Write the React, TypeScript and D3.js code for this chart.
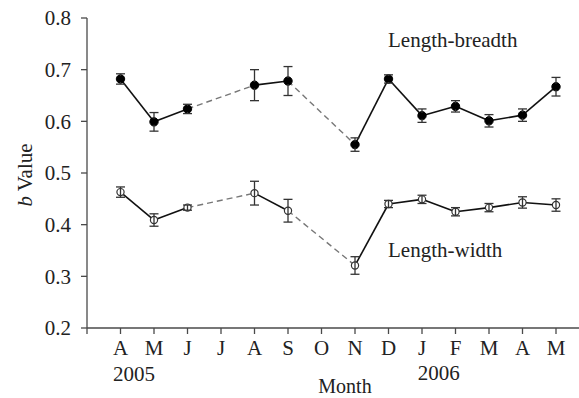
import * as d3 from "d3";

const monthTicks = ["A", "M", "J", "J", "A", "S", "O", "N", "D", "J", "F", "M", "A", "M"];
// position of each sampled month on the month axis (July and October were not sampled)
const sampled = [0, 1, 2, 4, 5, 7, 8, 9, 10, 11, 12, 13];
const breadthB = [0.682, 0.599, 0.624, 0.670, 0.678, 0.555, 0.682, 0.611, 0.629, 0.601, 0.612, 0.667];
const breadthErr = [0.010, 0.018, 0.009, 0.030, 0.028, 0.013, 0.008, 0.013, 0.011, 0.012, 0.012, 0.018];
const widthB = [0.463, 0.409, 0.433, 0.461, 0.427, 0.321, 0.440, 0.449, 0.425, 0.433, 0.443, 0.438];
const widthErr = [0.010, 0.012, 0.005, 0.023, 0.022, 0.017, 0.007, 0.008, 0.008, 0.008, 0.011, 0.012];
const yTicks = [0.2, 0.3, 0.4, 0.5, 0.6, 0.7, 0.8];

const W = 579;
const H = 398;
const font = "'Liberation Serif', 'Times New Roman', serif";
const axisColor = "#4a4a4a";

function Series({
  values,
  errs,
  x,
  y,
  open,
}: {
  values: number[];
  errs: number[];
  x: d3.ScaleLinear<number, number>;
  y: d3.ScaleLinear<number, number>;
  open: boolean;
}) {
  const pts = values.map((v, i) => ({ m: sampled[i], v, e: errs[i] }));
  const line = d3
    .line<(typeof pts)[number]>()
    .x((d) => x(d.m))
    .y((d) => y(d.v));

  return (
    <g>
      {/* connecting segments, dashed across the unsampled months */}
      {pts.slice(1).map((d, i) => {
        const prev = pts[i];
        const gap = d.m - prev.m > 1;
        return (
          <path
            key={"s" + i}
            d={line([prev, d]) ?? ""}
            fill="none"
            stroke={gap ? "#777" : "#111"}
            strokeWidth={gap ? 1.4 : 1.6}
            strokeDasharray={gap ? "6,4" : undefined}
          />
        );
      })}
      {/* markers */}
      {pts.map((d, i) => (
        <circle
          key={"c" + i}
          cx={x(d.m)}
          cy={y(d.v)}
          r={open ? 3.6 : 4.2}
          fill={open ? "#fff" : "#000"}
          stroke={open ? "#333" : "#000"}
          strokeWidth={open ? 1.2 : 1}
        />
      ))}
      {/* error bars */}
      {pts.map((d, i) => {
        const cx = x(d.m);
        const t = y(d.v + d.e);
        const b = y(d.v - d.e);
        return (
          <g key={"e" + i} stroke="#333" strokeWidth={1.3}>
            <line x1={cx} x2={cx} y1={t} y2={open ? b : y(d.v) - 3} />
            {!open && <line x1={cx} x2={cx} y1={y(d.v) + 3} y2={b} />}
            <line x1={cx - 4.5} x2={cx + 4.5} y1={t} y2={t} />
            <line x1={cx - 4.5} x2={cx + 4.5} y1={b} y2={b} />
          </g>
        );
      })}
    </g>
  );
}

export default function App() {
  const x = d3.scaleLinear().domain([-1, 13]).range([87, 556]);
  const y = d3.scaleLinear().domain([0.2, 0.8]).range([328, 18]);
  const x0 = x(-1);
  const yBase = y(0.2);

  return (
    <svg
      width={W}
      height={H}
      style={{ position: "absolute", left: 0, top: 0, background: "#fff" }}
      fontFamily={font}
    >
      {/* axes */}
      <line x1={x0} x2={x0} y1={y(0.8)} y2={yBase} stroke={axisColor} strokeWidth={1.3} />
      <line x1={x0} x2={W} y1={yBase} y2={yBase} stroke={axisColor} strokeWidth={1.3} />
      {yTicks.map((t) => (
        <g key={t}>
          <line x1={x0 - 6} x2={x0} y1={y(t)} y2={y(t)} stroke={axisColor} strokeWidth={1.3} />
          <text
            x={x0 - 16}
            y={y(t)}
            dy="0.35em"
            textAnchor="end"
            fontSize={21}
            fill="#222"
          >
            {t.toFixed(1)}
          </text>
        </g>
      ))}
      <line x1={x0} x2={x0} y1={yBase} y2={yBase + 6} stroke={axisColor} strokeWidth={1.3} />
      {monthTicks.map((m, i) => (
        <g key={i}>
          <line x1={x(i)} x2={x(i)} y1={yBase} y2={yBase + 6} stroke={axisColor} strokeWidth={1.3} />
          <text x={x(i)} y={355} textAnchor="middle" fontSize={21} fill="#222">
            {m}
          </text>
        </g>
      ))}
      <text x={x(0.4)} y={381} textAnchor="middle" fontSize={21} fill="#222">
        2005
      </text>
      <text x={x(9.5)} y={380} textAnchor="middle" fontSize={21} fill="#222">
        2006
      </text>
      <text x={345} y={393} textAnchor="middle" fontSize={20} fill="#222">
        Month
      </text>
      <text
        transform={`translate(32,${(y(0.8) + yBase) / 2 + 2}) rotate(-90)`}
        textAnchor="middle"
        fontSize={21}
        fill="#222"
      >
        <tspan fontStyle="italic">b</tspan> Value
      </text>

      <text x={388} y={47} fontSize={21} fill="#222">
        Length-breadth
      </text>
      <text x={388} y={257} fontSize={21} fill="#222">
        Length-width
      </text>

      <Series values={breadthB} errs={breadthErr} x={x} y={y} open={false} />
      <Series values={widthB} errs={widthErr} x={x} y={y} open={true} />
    </svg>
  );
}
